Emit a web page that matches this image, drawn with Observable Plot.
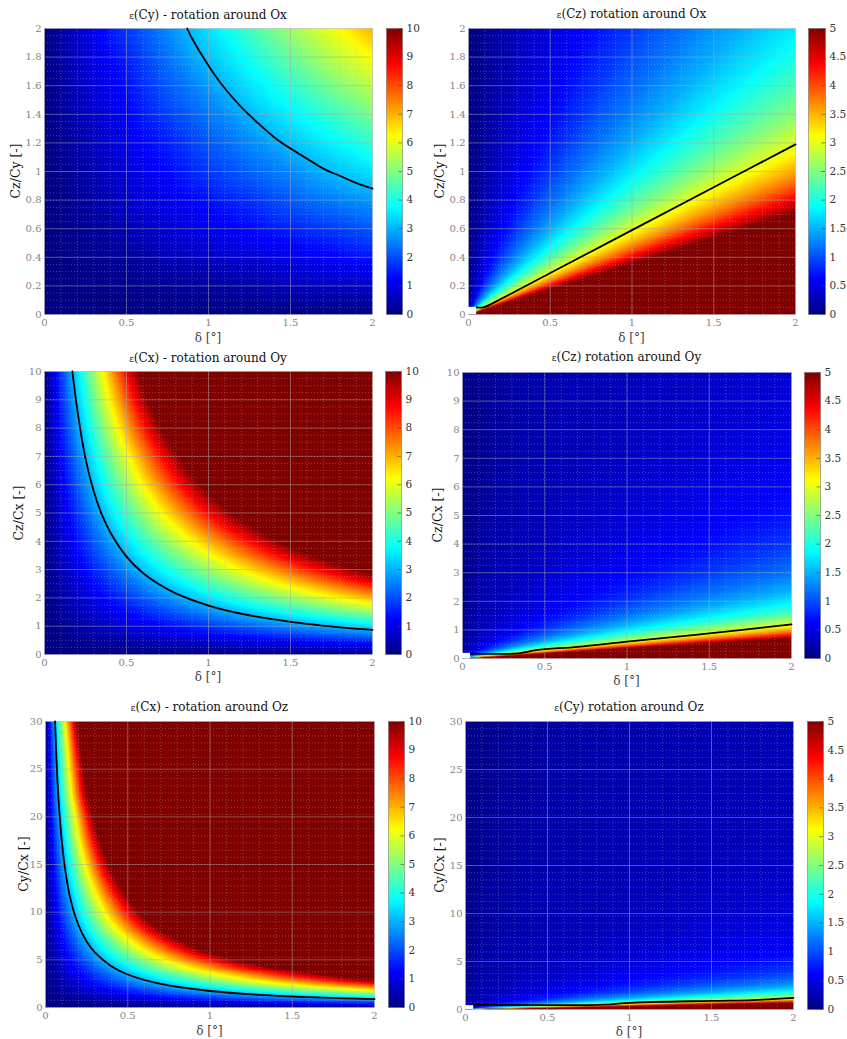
<!DOCTYPE html>
<html><head><meta charset="utf-8">
<script src="https://cdn.jsdelivr.net/npm/d3@7"></script>
<script src="https://cdn.jsdelivr.net/npm/@observablehq/plot@0.6"></script>
<style>
body{margin:0;background:#fff;}
#root{position:relative;width:847px;height:1039px;overflow:hidden;font-family:"DejaVu Serif",serif;}
#root svg text{font-family:"DejaVu Serif",serif !important;}
.title{position:absolute;transform:translate(-50%,-50%);font-size:12px;color:#111;white-space:nowrap;}
.title .eps{font-size:9px;}
.ylab{position:absolute;transform:translate(-50%,-50%) rotate(-90deg);font-size:12.5px;color:#111;white-space:nowrap;}
.xlab{position:absolute;transform:translate(-50%,-50%);font-size:12px;color:#444;white-space:nowrap;}
</style></head><body><div id="root"></div><script>
// ---------- tick labels ----------
const xTicks = [0, 0.5, 1, 1.5, 2];
const yTicksA = [0, 0.2, 0.4, 0.6, 0.8, 1, 1.2, 1.4, 1.6, 1.8, 2];
const yTicksB = [0, 1, 2, 3, 4, 5, 6, 7, 8, 9, 10];
const yTicksC = [0, 5, 10, 15, 20, 25, 30];
const cTicks10 = [0, 1, 2, 3, 4, 5, 6, 7, 8, 9, 10];
const cTicks5 = [0, 0.5, 1, 1.5, 2, 2.5, 3, 3.5, 4, 4.5, 5];

// ---------- titles / labels ----------
const titles = ["ε(Cy) - rotation around Ox", "ε(Cz) rotation around Ox", "ε(Cx) - rotation around Oy",
                "ε(Cz) rotation around Oy", "ε(Cx) - rotation around Oz", "ε(Cy) rotation around Oz"];
const yLabels = ["Cz/Cy [-]", "Cz/Cy [-]", "Cz/Cx [-]", "Cz/Cx [-]", "Cy/Cx [-]", "Cy/Cx [-]"];
const xLabel = "δ [°]";

// ---------- panel 1 : ε(Cy) rotation around Ox  (grid of read values) ----------
const p1Delta = [0, 0.25, 0.5, 0.75, 1, 1.25, 1.5, 1.75, 2];
const p1Ratio = [0, 0.25, 0.5, 0.75, 1, 1.25, 1.5, 1.75, 2];
const p1Eps = [
  [0,0,0,0,0,0,0,0,0],
  [0,0.1,0.2,0.3,0.4,0.5,0.7,0.8,0.9],
  [0,0.2,0.4,0.7,0.9,1.1,1.3,1.5,1.8],
  [0,0.3,0.7,1.0,1.3,1.6,2.0,2.3,2.6],
  [0,0.4,0.9,1.3,1.8,2.2,2.6,3.1,3.5],
  [0,0.5,1.1,1.6,2.2,2.7,3.3,3.8,4.4],
  [0,0.7,1.3,2.0,2.6,3.3,3.9,4.6,5.3],
  [0,0.8,1.5,2.3,3.1,3.8,4.6,5.4,6.1],
  [0,0.9,1.8,2.6,3.5,4.4,5.3,6.1,7.0]
];
const p1LineDelta = [0.87,0.9,1.0,1.1,1.2,1.3,1.4,1.5,1.6,1.7,1.8,1.9,2.0];
const p1LineRatio = [2.0,1.93,1.74,1.58,1.45,1.34,1.24,1.16,1.09,1.02,0.97,0.92,0.88];

// ---------- panel 2 : ε(Cz) rotation around Ox  (value along rays Cz/Cy : δ) ----------
const p2RaySlope = [0, 0.356, 0.4, 0.45, 0.5, 0.55, 0.6, 0.7, 0.8, 0.9, 1.0, 1.2, 1.5, 2, 2.5, 3, 4, 6, 10, 20, 50];
const p2RayEps   = [5, 5, 4.45, 3.96, 3.56, 3.24, 2.97, 2.54, 2.23, 1.98, 1.78, 1.48, 1.19, 0.89, 0.71, 0.59, 0.45, 0.3, 0.18, 0.09, 0.04];
const p2LineDelta = [0.05,0.09,0.2,0.5,1.0,1.5,2.0];
const p2LineRatio = [0.05,0.05,0.11,0.29,0.59,0.89,1.19];
const p2BoxDelta = [0, 0.05];
const p2BoxRatio = [0, 0.05];

// ---------- panel 3 : ε(Cx) rotation around Oy  (per row: δ where dark red starts, value there) ----------
const p3RowRatio    = [0, 0.5, 1, 1.5, 2, 2.5, 2.86, 3, 3.5, 4, 4.5, 5, 5.5, 6, 6.5, 7, 7.5, 8, 8.5, 9, 9.5, 10];
const p3RowEndDelta = [2, 2, 2, 2, 2, 2, 2, 1.9, 1.63, 1.43, 1.27, 1.14, 1.04, 0.95, 0.88, 0.82, 0.76, 0.71, 0.67, 0.63, 0.6, 0.57];
const p3RowEndEps   = [0, 1.75, 3.5, 5.25, 7.0, 8.75, 10, 10, 10, 10, 10, 10, 10, 10, 10, 10, 10, 10, 10, 10, 10, 10];
const p3LineDelta = [0.17,0.2,0.25,0.3,0.35,0.4,0.5,0.6,0.7,0.8,1.0,1.2,1.4,1.6,1.8,2.0];
const p3LineRatio = [10,8.65,6.92,5.77,4.94,4.33,3.46,2.88,2.47,2.16,1.73,1.44,1.24,1.08,0.96,0.87];

// ---------- panel 4 : ε(Cz) rotation around Oy ----------
const p4RaySlope = [0, 0.356, 0.4, 0.45, 0.5, 0.55, 0.6, 0.7, 0.8, 0.9, 1.0, 1.2, 1.5, 2, 2.5, 3, 4, 5, 7, 10, 20, 50, 100];
const p4RayEps   = [5, 5, 4.45, 3.96, 3.56, 3.24, 2.97, 2.54, 2.23, 1.98, 1.78, 1.48, 1.19, 0.89, 0.72, 0.62, 0.5, 0.42, 0.34, 0.28, 0.22, 0.12, 0.06];
const p4LineDelta = [0.05,0.34,0.45,0.7,1.0,1.4,1.7,2.0];
const p4LineRatio = [0.17,0.18,0.29,0.41,0.59,0.82,1.0,1.19];
const p4BoxDelta = [0, 0.05];
const p4BoxRatio = [0, 0.18];

// ---------- panel 5 : ε(Cx) rotation around Oz ----------
const p5RowRatio    = [0, 1, 2, 2.86, 3, 4, 5, 6, 7, 8, 9, 10, 12, 14, 16, 18, 20, 22.5, 25, 27.5, 30];
const p5RowEndDelta = [2, 2, 2, 2, 1.9, 1.43, 1.14, 0.95, 0.82, 0.71, 0.63, 0.57, 0.48, 0.41, 0.36, 0.32, 0.29, 0.25, 0.23, 0.21, 0.19];
const p5RowEndEps   = [0, 3.5, 7.0, 10, 10, 10, 10, 10, 10, 10, 10, 10, 10, 10, 10, 10, 10, 10, 10, 10, 10];
const p5LineDelta = [0.058,0.07,0.08,0.1,0.12,0.15,0.2,0.25,0.3,0.4,0.5,0.7,1.0,1.3,1.6,2.0];
const p5LineRatio = [30,24.7,21.6,17.3,14.4,11.5,8.65,6.92,5.77,4.33,3.46,2.47,1.73,1.33,1.08,0.87];

// ---------- panel 6 : ε(Cy) rotation around Oz ----------
const p6RaySlope = [0, 0.356, 0.4, 0.45, 0.5, 0.55, 0.6, 0.7, 0.8, 0.9, 1.0, 1.2, 1.5, 2, 2.5, 3, 4, 5, 7, 10, 15, 30, 60, 150, 300];
const p6RayEps   = [5, 5, 4.45, 3.96, 3.56, 3.24, 2.97, 2.54, 2.23, 1.98, 1.78, 1.48, 1.19, 0.89, 0.74, 0.64, 0.52, 0.44, 0.36, 0.3, 0.26, 0.22, 0.17, 0.1, 0.05];
const p6LineDelta = [0.05,0.85,1.0,1.5,1.75,2.0];
const p6LineRatio = [0.5,0.5,0.7,0.9,0.98,1.22];
const p6BoxDelta = [0, 0.05];
const p6BoxRatio = [0, 0.4];

// ---------- colormap (MATLAB jet) ----------
const JET = ["#000080","#0000ff","#0080ff","#00ffff","#80ff80","#ffff00","#ff8000","#ff0000","#800000"];
const jet = d3.piecewise(d3.interpolateRgb, JET);

// ---------- field samplers built from the arrays ----------
function gridField(delta, ratio, eps) {
  const pts = [];
  ratio.forEach((r, i) => delta.forEach((d, j) => pts.push({d, r, v: eps[i][j]})));
  return {data: pts, opts: {x: "d", y: "r", fill: "v", interpolate: "barycentric"}};
}
function rayField(slopes, vals) {
  const f = d3.scaleLinear().domain(slopes).range(vals).clamp(true);
  return {data: undefined, opts: {fill: (x, y) => (x <= 0 ? 0 : f(y / x))}};
}
function rowField(rows, endDelta, endEps) {
  const fd = d3.scaleLinear().domain(rows).range(endDelta).clamp(true);
  const fe = d3.scaleLinear().domain(rows).range(endEps).clamp(true);
  return {data: undefined, opts: {fill: (x, y) => { const s = fd(y), e = fe(y); return x >= s ? e : e * x / s; }}};
}

// ---------- panel specs ----------
const panels = [
  {field: gridField(p1Delta, p1Ratio, p1Eps), lx:p1LineDelta, ly:p1LineRatio, box:null, yMax:2, yTicks:yTicksA, yMinor:0.05, cMax:10, cTicks:cTicks10,
   lay:{L:44, T:28, W:328, H:286, cbL:386, cbW:16, titleY:15, xlabY:338, ylabX:15}},
  {field: rayField(p2RaySlope, p2RayEps), lx:p2LineDelta, ly:p2LineRatio, box:[p2BoxDelta,p2BoxRatio], yMax:2, yTicks:yTicksA, yMinor:0.05, cMax:5, cTicks:cTicks5,
   lay:{L:468, T:28, W:327, H:286, cbL:808, cbW:17, titleY:14, xlabY:338, ylabX:439}},
  {field: rowField(p3RowRatio, p3RowEndDelta, p3RowEndEps), lx:p3LineDelta, ly:p3LineRatio, box:null, yMax:10, yTicks:yTicksB, yMinor:0.25, cMax:10, cTicks:cTicks10,
   lay:{L:44, T:371, W:328, H:283, cbL:385, cbW:16, titleY:358, xlabY:677, ylabX:18}},
  {field: rayField(p4RaySlope, p4RayEps), lx:p4LineDelta, ly:p4LineRatio, box:[p4BoxDelta,p4BoxRatio], yMax:10, yTicks:yTicksB, yMinor:0.25, cMax:5, cTicks:cTicks5,
   lay:{L:462, T:372, W:329, H:286, cbL:804, cbW:16, titleY:357, xlabY:681, ylabX:437}},
  {field: rowField(p5RowRatio, p5RowEndDelta, p5RowEndEps), lx:p5LineDelta, ly:p5LineRatio, box:null, yMax:30, yTicks:yTicksC, yMinor:0.75, cMax:10, cTicks:cTicks10,
   lay:{L:45, T:721, W:329, H:286, cbL:388, cbW:16, titleY:707, xlabY:1031, ylabX:23}},
  {field: rayField(p6RaySlope, p6RayEps), lx:p6LineDelta, ly:p6LineRatio, box:[p6BoxDelta,p6BoxRatio], yMax:30, yTicks:yTicksC, yMinor:0.75, cMax:5, cTicks:cTicks5,
   lay:{L:465, T:721, W:328, H:288, cbL:807, cbW:16, titleY:707, xlabY:1032, ylabX:439}}
];

const root = document.getElementById("root");
const fmt = d => String(d);

function place(el, left, top){ el.style.position = "absolute"; el.style.left = left + "px"; el.style.top = top + "px"; root.appendChild(el); }
function addDiv(cls, html, x, y){ const d = document.createElement("div"); d.className = cls; d.innerHTML = html; d.style.left = x + "px"; d.style.top = y + "px"; root.appendChild(d); }

panels.forEach((p, k) => {
  const lay = p.lay;
  const line = p.lx.map((x, i) => ({d: x, r: p.ly[i]}));
  const color = {type: "linear", domain: [0, p.cMax], interpolate: jet, clamp: true};
  const ml = 40, mr = 8, mt = 8, mb = 22;
  const xMinor = d3.range(0, 2.0001, 0.1);
  const yMinor = d3.range(0, p.yMax + 1e-9, p.yMinor);
  const rasterOpts = {...p.field.opts, x1: 0, x2: 2, y1: 0, y2: p.yMax};
  const marks = [
    p.field.data ? Plot.raster(p.field.data, rasterOpts) : Plot.raster(rasterOpts),
    Plot.gridX(xMinor, {stroke: "#b8b8b8", strokeOpacity: 0.35, strokeDasharray: "1,2"}),
    Plot.gridY(yMinor, {stroke: "#b8b8b8", strokeOpacity: 0.35, strokeDasharray: "1,2"}),
    Plot.gridX(xTicks, {stroke: "#a8a8a8", strokeOpacity: 0.55, strokeWidth: 0.8}),
    Plot.gridY(p.yTicks, {stroke: "#a8a8a8", strokeOpacity: 0.55, strokeWidth: 0.8})
  ];
  if (p.box) marks.push(Plot.rect([{x1: p.box[0][0], x2: p.box[0][1], y1: p.box[1][0], y2: p.box[1][1]}],
                                  {x1: "x1", x2: "x2", y1: "y1", y2: "y2", fill: "white"}));
  marks.push(Plot.line(line, {x: "d", y: "r", stroke: "black", strokeWidth: 1.8, curve: "catmull-rom"}));

  const svg = Plot.plot({
    width: ml + lay.W + mr, height: mt + lay.H + mb,
    marginLeft: ml, marginRight: mr, marginTop: mt, marginBottom: mb,
    style: {fontFamily: "DejaVu Serif", fontSize: "10px", color: "#858585", background: "transparent", overflow: "visible"},
    x: {domain: [0, 2], ticks: xTicks, tickSize: 0, tickPadding: 4, tickFormat: fmt, label: null},
    y: {domain: [0, p.yMax], ticks: p.yTicks, tickSize: 0, tickPadding: 3, tickFormat: fmt, label: null},
    color,
    marks
  });
  place(svg, lay.L - ml, lay.T - mt);

  const cmt = 8, cmr = 32;
  const cb = Plot.plot({
    width: lay.cbW + cmr, height: cmt + lay.H + 10,
    marginLeft: 0, marginRight: cmr, marginTop: cmt, marginBottom: 10,
    style: {fontFamily: "DejaVu Serif", fontSize: "10.5px", color: "#333", background: "transparent", overflow: "visible"},
    x: {domain: [0, 1], axis: null},
    y: {domain: [0, p.cMax], axis: "right", ticks: p.cTicks, tickSize: 0, tickPadding: 4, tickFormat: fmt, label: null},
    color,
    marks: [
      Plot.raster({fill: (x, y) => y, x1: 0, x2: 1, y1: 0, y2: p.cMax}),
      Plot.ruleY(p.cTicks, {x1: 0.78, x2: 1, stroke: "#444", strokeWidth: 0.6}),
      Plot.frame({stroke: "#666", strokeWidth: 0.5})
    ]
  });
  place(cb, lay.cbL, lay.T - cmt);

  const t = titles[k];
  addDiv("title", '<span class="eps">' + t[0] + '</span>' + t.slice(1), lay.L + lay.W / 2, lay.titleY);
  addDiv("ylab", yLabels[k], lay.ylabX, lay.T + lay.H / 2);
  addDiv("xlab", xLabel, lay.L + lay.W / 2, lay.xlabY);
});
</script></body></html>
